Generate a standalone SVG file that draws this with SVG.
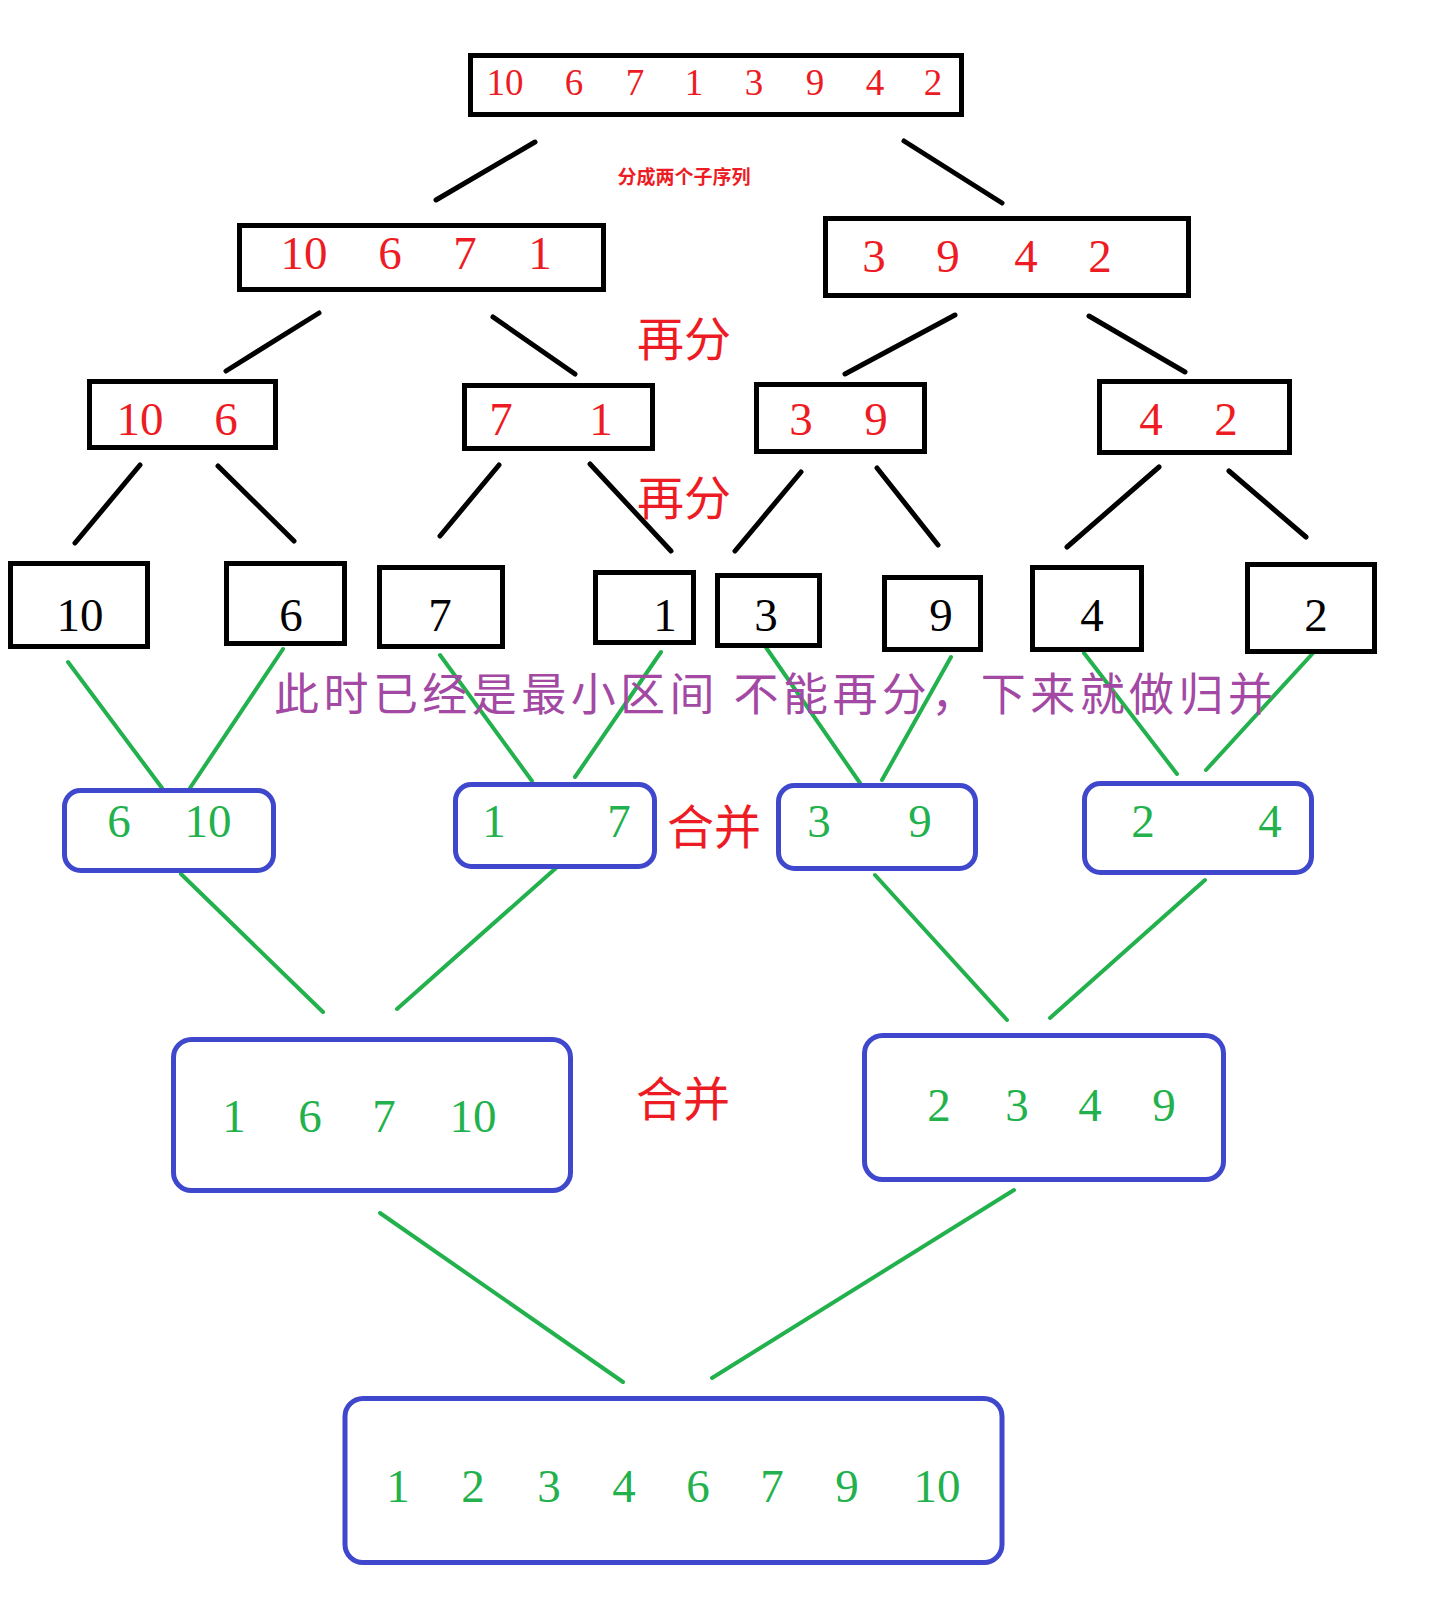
<svg xmlns="http://www.w3.org/2000/svg" width="1431" height="1611" viewBox="0 0 1431 1611">
<style>
.bg{fill:#ffffff}
.bx{fill:none;stroke:#000000;stroke-width:5}
.rb{fill:none;stroke:#3f48cc;stroke-width:5}
.bl{stroke:#000000;stroke-width:5;stroke-linecap:round;fill:none}
.gl{stroke:#22b14c;stroke-width:4;stroke-linecap:round;fill:none}
.d{font-family:"Liberation Serif","Times New Roman",serif;font-size:47px;text-anchor:middle}
.dt{font-family:"Liberation Serif","Times New Roman",serif;font-size:37px;text-anchor:middle;fill:#ed1c24}
.r{fill:#ed1c24}
.k{fill:#000000}
.g{fill:#22b14c}
.cn{font-family:"Noto Sans CJK SC","Noto Sans CJK TC",sans-serif;text-anchor:middle}
</style>
<rect class="bg" x="0" y="0" width="1431" height="1611"/>

<g id="connectors">
  <line class="bl" x1="535" y1="142" x2="436" y2="200"/>
  <line class="bl" x1="904" y1="141" x2="1002" y2="203"/>
  <line class="bl" x1="319" y1="313" x2="226" y2="371"/>
  <line class="bl" x1="493" y1="317" x2="575" y2="374"/>
  <line class="bl" x1="955" y1="315" x2="845" y2="374"/>
  <line class="bl" x1="1089" y1="316" x2="1185" y2="372"/>
  <line class="bl" x1="140" y1="465" x2="75" y2="543"/>
  <line class="bl" x1="218" y1="466" x2="294" y2="541"/>
  <line class="bl" x1="499" y1="465" x2="440" y2="536"/>
  <line class="bl" x1="590" y1="464" x2="671" y2="551"/>
  <line class="bl" x1="801" y1="472" x2="735" y2="551"/>
  <line class="bl" x1="877" y1="468" x2="938" y2="545"/>
  <line class="bl" x1="1159" y1="467" x2="1067" y2="547"/>
  <line class="bl" x1="1229" y1="471" x2="1306" y2="537"/>
  <line class="gl" x1="68" y1="662" x2="162" y2="788"/>
  <line class="gl" x1="283" y1="649" x2="190" y2="788"/>
  <line class="gl" x1="440" y1="655" x2="532" y2="781"/>
  <line class="gl" x1="661" y1="652" x2="575" y2="777"/>
  <line class="gl" x1="765" y1="646" x2="860" y2="783"/>
  <line class="gl" x1="951" y1="657" x2="882" y2="780"/>
  <line class="gl" x1="1084" y1="653" x2="1177" y2="774"/>
  <line class="gl" x1="1314" y1="652" x2="1206" y2="770"/>
  <line class="gl" x1="181" y1="874" x2="323" y2="1012"/>
  <line class="gl" x1="556" y1="868" x2="397" y2="1009"/>
  <line class="gl" x1="875" y1="875" x2="1007" y2="1020"/>
  <line class="gl" x1="1205" y1="880" x2="1050" y2="1018"/>
  <line class="gl" x1="380" y1="1213" x2="623" y2="1382"/>
  <line class="gl" x1="1014" y1="1190" x2="712" y2="1378"/>
</g>

<g id="root">
  <rect class="bx" x="470.5" y="55.5" width="491" height="59"/>
  <text class="dt" x="505" y="95">10</text>
  <text class="dt" x="574" y="95">6</text>
  <text class="dt" x="635" y="95">7</text>
  <text class="dt" x="694" y="95">1</text>
  <text class="dt" x="754" y="95">3</text>
  <text class="dt" x="815" y="95">9</text>
  <text class="dt" x="875" y="95">4</text>
  <text class="dt" x="933" y="95">2</text>
</g>

<g id="label-split">
  <text class="cn r" x="684" y="184" font-size="19" font-weight="bold">分成两个子序列</text>
</g>

<g id="l2-left">
  <rect class="bx" x="239.5" y="225.5" width="364" height="64"/>
  <text class="d r" x="304" y="269">10</text>
  <text class="d r" x="390" y="269">6</text>
  <text class="d r" x="465" y="269">7</text>
  <text class="d r" x="540" y="269">1</text>
</g>
<g id="l2-right">
  <rect class="bx" x="825.5" y="218.5" width="363" height="77"/>
  <text class="d r" x="874" y="272">3</text>
  <text class="d r" x="948" y="272">9</text>
  <text class="d r" x="1026" y="272">4</text>
  <text class="d r" x="1100" y="272">2</text>
</g>

<g id="label-split2">
  <text class="cn r" x="684" y="356" font-size="47">再分</text>
</g>

<g id="l3-10-6">
  <rect class="bx" x="89.5" y="381.5" width="186" height="66"/>
  <text class="d r" x="140" y="435">10</text>
  <text class="d r" x="226" y="435">6</text>
</g>
<g id="l3-7-1">
  <rect class="bx" x="464.5" y="385.5" width="188" height="63"/>
  <text class="d r" x="501" y="435">7</text>
  <text class="d r" x="601" y="435">1</text>
</g>
<g id="l3-3-9">
  <rect class="bx" x="756.5" y="384.5" width="168" height="67"/>
  <text class="d r" x="801" y="435">3</text>
  <text class="d r" x="876" y="435">9</text>
</g>
<g id="l3-4-2">
  <rect class="bx" x="1099.5" y="381.5" width="190" height="71"/>
  <text class="d r" x="1151" y="435">4</text>
  <text class="d r" x="1226" y="435">2</text>
</g>

<g id="label-split3">
  <text class="cn r" x="684" y="515" font-size="47">再分</text>
</g>

<g id="leaf-10">
  <rect class="bx" x="10.5" y="563.5" width="137" height="83"/>
  <text class="d k" x="80" y="631">10</text>
</g>
<g id="leaf-6">
  <rect class="bx" x="226.5" y="563.5" width="118" height="80"/>
  <text class="d k" x="291" y="631">6</text>
</g>
<g id="leaf-7">
  <rect class="bx" x="379.5" y="567.5" width="123" height="79"/>
  <text class="d k" x="440" y="631">7</text>
</g>
<g id="leaf-1">
  <rect class="bx" x="595.5" y="572.5" width="98" height="70"/>
  <text class="d k" x="665" y="631">1</text>
</g>
<g id="leaf-3">
  <rect class="bx" x="717.5" y="575.5" width="102" height="70"/>
  <text class="d k" x="766" y="631">3</text>
</g>
<g id="leaf-9">
  <rect class="bx" x="884.5" y="577.5" width="96" height="72"/>
  <text class="d k" x="941" y="631">9</text>
</g>
<g id="leaf-4">
  <rect class="bx" x="1032.5" y="567.5" width="109" height="82"/>
  <text class="d k" x="1092" y="631">4</text>
</g>
<g id="leaf-2">
  <rect class="bx" x="1247.5" y="564.5" width="127" height="87"/>
  <text class="d k" x="1316" y="631">2</text>
</g>

<g id="label-note">
  <text x="274" y="711" font-family="Noto Sans CJK SC, Noto Sans CJK TC, sans-serif" font-size="45" fill="#a349a4" textLength="999" lengthAdjust="spacing">此时已经是最小区间 不能再分，下来就做归并</text>
</g>

<g id="m1-6-10">
  <rect class="rb" x="64.5" y="790.5" width="209" height="80" rx="16"/>
  <text class="d g" x="119" y="837">6</text>
  <text class="d g" x="208" y="837">10</text>
</g>
<g id="m1-1-7">
  <rect class="rb" x="455.5" y="784.5" width="199" height="82" rx="16"/>
  <text class="d g" x="494" y="837">1</text>
  <text class="d g" x="619" y="837">7</text>
</g>
<g id="m1-3-9">
  <rect class="rb" x="778.5" y="785.5" width="197" height="83" rx="16"/>
  <text class="d g" x="819" y="837">3</text>
  <text class="d g" x="920" y="837">9</text>
</g>
<g id="m1-2-4">
  <rect class="rb" x="1084.5" y="783.5" width="227" height="89" rx="16"/>
  <text class="d g" x="1143" y="837">2</text>
  <text class="d g" x="1270" y="837">4</text>
</g>

<g id="label-merge1">
  <text class="cn r" x="714" y="844" font-size="47">合并</text>
</g>

<g id="m2-left">
  <rect class="rb" x="173.5" y="1039.5" width="397" height="151" rx="18"/>
  <text class="d g" x="234" y="1132">1</text>
  <text class="d g" x="310" y="1132">6</text>
  <text class="d g" x="384" y="1132">7</text>
  <text class="d g" x="473" y="1132">10</text>
</g>
<g id="m2-right">
  <rect class="rb" x="864.5" y="1035.5" width="359" height="144" rx="18"/>
  <text class="d g" x="939" y="1121">2</text>
  <text class="d g" x="1017" y="1121">3</text>
  <text class="d g" x="1090" y="1121">4</text>
  <text class="d g" x="1164" y="1121">9</text>
</g>

<g id="label-merge2">
  <text class="cn r" x="683" y="1116" font-size="47">合并</text>
</g>

<g id="final">
  <rect class="rb" x="345" y="1398.5" width="657" height="164" rx="18"/>
  <text class="d g" x="398" y="1502">1</text>
  <text class="d g" x="473" y="1502">2</text>
  <text class="d g" x="549" y="1502">3</text>
  <text class="d g" x="624" y="1502">4</text>
  <text class="d g" x="698" y="1502">6</text>
  <text class="d g" x="772" y="1502">7</text>
  <text class="d g" x="847" y="1502">9</text>
  <text class="d g" x="937" y="1502">10</text>
</g>
</svg>
